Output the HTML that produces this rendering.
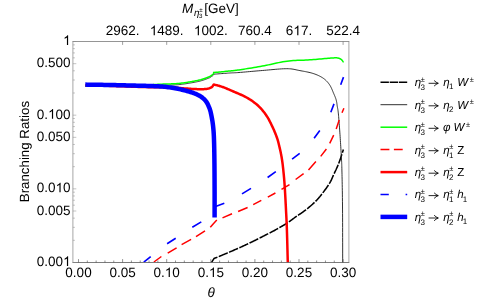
<!DOCTYPE html>
<html><head><meta charset="utf-8"><title>Branching Ratios</title>
<style>html,body{margin:0;padding:0;background:#fff;}body{width:482px;height:303px;position:relative;overflow:hidden;font-family:"Liberation Sans",sans-serif;}</style>
</head><body>
<svg width="482" height="303" viewBox="0 0 482 303" style="position:absolute;left:0;top:0;will-change:transform">
<defs><clipPath id="cp"><rect x="72.9" y="41.5" width="276.0" height="221.0"/></clipPath></defs>
<rect width="482" height="303" fill="#fff"/>
<g clip-path="url(#cp)" fill="none" stroke-linejoin="round">
<path d="M211.40 262.60 L214.10 258.40 L214.10 258.60 L214.19 258.55 L214.26 258.51 L214.33 258.46 L214.40 258.42 L214.47 258.38 L214.54 258.33 L214.61 258.29 L214.70 258.24 L214.80 258.19 L214.91 258.13 L215.05 258.07 L215.20 258.00 L215.36 257.94 L215.50 257.88 L215.63 257.83 L215.77 257.79 L215.93 257.73 L216.10 257.67 L216.30 257.60 L216.55 257.51 L216.84 257.40 L217.19 257.27 L217.61 257.10 L218.10 256.90 L218.67 256.66 L219.33 256.39 L220.05 256.09 L220.82 255.76 L221.65 255.41 L222.51 255.04 L223.41 254.66 L224.32 254.27 L225.25 253.88 L226.18 253.48 L227.10 253.09 L228.00 252.70 L228.91 252.31 L229.84 251.91 L230.79 251.50 L231.75 251.09 L232.73 250.67 L233.71 250.24 L234.70 249.82 L235.68 249.39 L236.66 248.96 L237.62 248.54 L238.57 248.12 L239.50 247.70 L240.42 247.28 L241.34 246.87 L242.25 246.44 L243.17 246.02 L244.07 245.60 L244.97 245.18 L245.85 244.77 L246.72 244.36 L247.57 243.95 L248.41 243.56 L249.22 243.17 L250.00 242.80 L250.75 242.44 L251.48 242.09 L252.18 241.76 L252.85 241.43 L253.51 241.11 L254.16 240.80 L254.79 240.49 L255.43 240.18 L256.06 239.87 L256.70 239.55 L257.34 239.23 L258.00 238.90 L258.67 238.57 L259.33 238.23 L260.00 237.89 L260.67 237.55 L261.33 237.21 L262.00 236.86 L262.67 236.52 L263.33 236.17 L264.00 235.83 L264.67 235.49 L265.33 235.14 L266.00 234.80 L266.65 234.47 L267.28 234.15 L267.90 233.85 L268.50 233.55 L269.11 233.25 L269.72 232.94 L270.35 232.63 L271.01 232.30 L271.69 231.94 L272.41 231.56 L273.18 231.15 L274.00 230.70 L274.89 230.21 L275.84 229.68 L276.85 229.12 L277.90 228.53 L278.98 227.91 L280.07 227.29 L281.18 226.65 L282.28 226.01 L283.37 225.37 L284.42 224.73 L285.44 224.11 L286.40 223.50 L287.33 222.90 L288.24 222.28 L289.14 221.66 L290.03 221.03 L290.90 220.41 L291.75 219.79 L292.58 219.18 L293.39 218.58 L294.18 218.00 L294.95 217.44 L295.69 216.90 L296.40 216.40 L297.08 215.93 L297.72 215.49 L298.33 215.09 L298.91 214.70 L299.48 214.33 L300.02 213.98 L300.55 213.63 L301.07 213.28 L301.60 212.93 L302.12 212.57 L302.65 212.19 L303.20 211.80 L303.75 211.40 L304.30 210.99 L304.84 210.59 L305.37 210.19 L305.91 209.78 L306.44 209.36 L306.98 208.94 L307.51 208.51 L308.05 208.08 L308.60 207.63 L309.15 207.17 L309.70 206.70 L310.26 206.22 L310.83 205.73 L311.40 205.23 L311.97 204.73 L312.55 204.22 L313.13 203.69 L313.71 203.16 L314.29 202.61 L314.87 202.06 L315.45 201.49 L316.03 200.90 L316.60 200.30 L317.17 199.68 L317.74 199.05 L318.31 198.40 L318.89 197.74 L319.46 197.07 L320.03 196.39 L320.59 195.69 L321.16 194.99 L321.72 194.28 L322.29 193.56 L322.84 192.83 L323.40 192.10 L323.96 191.35 L324.53 190.58 L325.11 189.79 L325.70 188.99 L326.28 188.18 L326.85 187.37 L327.41 186.56 L327.96 185.75 L328.49 184.96 L328.99 184.18 L329.46 183.43 L329.90 182.70 L330.30 182.00 L330.66 181.33 L330.99 180.68 L331.30 180.04 L331.59 179.42 L331.86 178.80 L332.12 178.19 L332.38 177.57 L332.64 176.95 L332.91 176.32 L333.20 175.67 L333.50 175.00 L333.82 174.31 L334.16 173.61 L334.50 172.90 L334.84 172.17 L335.19 171.45 L335.54 170.71 L335.88 169.98 L336.23 169.25 L336.56 168.52 L336.89 167.80 L337.20 167.10 L337.50 166.40 L337.79 165.72 L338.06 165.06 L338.32 164.40 L338.58 163.76 L338.83 163.12 L339.07 162.48 L339.31 161.84 L339.54 161.20 L339.78 160.54 L340.02 159.88 L340.26 159.20 L340.50 158.50 L340.75 157.78 L340.99 157.05 L341.23 156.31 L341.47 155.56 L341.72 154.79 L341.96 154.02 L342.20 153.25 L342.44 152.48 L342.68 151.70 L342.92 150.93 L343.16 150.16 L343.40 149.40" stroke="#000" stroke-width="1.55" stroke-dasharray="9.7 1.5" stroke-dashoffset="0.9"/>
<path d="M85.30 86.30 L86.51 86.29 L87.69 86.28 L88.85 86.28 L90.00 86.27 L91.16 86.26 L92.32 86.26 L93.50 86.25 L94.71 86.24 L95.95 86.23 L97.24 86.22 L98.59 86.21 L100.00 86.20 L101.48 86.19 L103.03 86.17 L104.63 86.15 L106.27 86.14 L107.96 86.12 L109.67 86.10 L111.40 86.08 L113.14 86.06 L114.88 86.05 L116.61 86.03 L118.32 86.01 L120.00 86.00 L121.70 85.99 L123.45 85.98 L125.23 85.97 L127.04 85.96 L128.84 85.95 L130.62 85.94 L132.38 85.94 L134.07 85.93 L135.70 85.92 L137.25 85.92 L138.68 85.91 L140.00 85.90 L141.18 85.89 L142.24 85.89 L143.19 85.88 L144.06 85.88 L144.86 85.87 L145.60 85.87 L146.31 85.86 L147.01 85.86 L147.71 85.85 L148.43 85.83 L149.18 85.82 L150.00 85.80 L150.85 85.78 L151.71 85.75 L152.57 85.72 L153.44 85.69 L154.31 85.65 L155.18 85.61 L156.05 85.57 L156.93 85.54 L157.80 85.50 L158.67 85.46 L159.54 85.43 L160.40 85.40 L161.27 85.37 L162.13 85.35 L163.01 85.33 L163.88 85.30 L164.75 85.28 L165.62 85.26 L166.48 85.24 L167.34 85.22 L168.20 85.19 L169.04 85.17 L169.88 85.14 L170.70 85.10 L171.51 85.06 L172.30 85.03 L173.07 84.99 L173.83 84.96 L174.59 84.92 L175.34 84.88 L176.10 84.83 L176.86 84.78 L177.62 84.72 L178.40 84.66 L179.19 84.58 L180.00 84.50 L180.83 84.41 L181.67 84.31 L182.53 84.20 L183.39 84.09 L184.26 83.97 L185.14 83.84 L186.02 83.71 L186.90 83.58 L187.78 83.44 L188.66 83.30 L189.53 83.15 L190.40 83.00 L191.27 82.85 L192.15 82.69 L193.03 82.54 L193.91 82.37 L194.80 82.21 L195.68 82.04 L196.56 81.86 L197.42 81.68 L198.27 81.50 L199.10 81.30 L199.91 81.10 L200.70 80.90 L201.48 80.68 L202.27 80.44 L203.06 80.19 L203.84 79.93 L204.61 79.66 L205.36 79.39 L206.08 79.13 L206.77 78.87 L207.41 78.62 L208.00 78.39 L208.53 78.18 L209.00 78.00 L209.39 77.84 L209.71 77.71 L209.96 77.59 L210.16 77.49 L210.31 77.39 L210.44 77.31 L210.54 77.24 L210.63 77.16 L210.72 77.08 L210.82 77.00 L210.94 76.91 L211.10 76.80 L211.28 76.68 L211.47 76.56 L211.66 76.44 L211.85 76.31 L212.05 76.18 L212.24 76.04 L212.42 75.91 L212.60 75.78 L212.77 75.65 L212.93 75.53 L213.07 75.41 L213.20 75.30 L213.31 75.19 L213.40 75.09 L213.47 75.00 L213.54 74.90 L213.59 74.81 L213.64 74.72 L213.68 74.64 L213.72 74.55 L213.76 74.47 L213.80 74.38 L213.85 74.29 L213.90 74.20 L213.90 74.20 L213.95 74.19 L213.93 74.19 L213.86 74.20 L213.76 74.20 L213.67 74.21 L213.60 74.21 L213.58 74.21 L213.63 74.21 L213.77 74.20 L214.03 74.17 L214.43 74.14 L215.00 74.10 L215.77 74.04 L216.73 73.97 L217.85 73.88 L219.09 73.79 L220.43 73.68 L221.84 73.57 L223.27 73.47 L224.70 73.36 L226.09 73.26 L227.41 73.16 L228.62 73.07 L229.70 73.00 L230.62 72.94 L231.40 72.90 L232.08 72.87 L232.68 72.84 L233.25 72.83 L233.81 72.81 L234.41 72.78 L235.06 72.76 L235.82 72.72 L236.70 72.66 L237.75 72.59 L239.00 72.50 L240.45 72.39 L242.06 72.25 L243.81 72.10 L245.69 71.94 L247.66 71.76 L249.70 71.58 L251.80 71.40 L253.93 71.21 L256.06 71.02 L258.19 70.84 L260.27 70.66 L262.30 70.50 L264.34 70.33 L266.45 70.15 L268.61 69.95 L270.80 69.75 L273.00 69.55 L275.19 69.36 L277.34 69.18 L279.43 69.02 L281.45 68.89 L283.36 68.78 L285.15 68.72 L286.80 68.70 L288.29 68.73 L289.64 68.79 L290.87 68.89 L292.00 69.02 L293.06 69.18 L294.05 69.36 L295.00 69.55 L295.94 69.76 L296.88 69.97 L297.84 70.18 L298.84 70.39 L299.90 70.60 L301.01 70.80 L302.14 71.00 L303.29 71.21 L304.44 71.43 L305.59 71.65 L306.74 71.88 L307.88 72.11 L309.00 72.36 L310.10 72.62 L311.17 72.90 L312.21 73.19 L313.20 73.50 L314.16 73.82 L315.10 74.16 L316.02 74.50 L316.91 74.86 L317.78 75.23 L318.63 75.62 L319.46 76.02 L320.26 76.43 L321.03 76.85 L321.78 77.29 L322.50 77.74 L323.20 78.20 L323.87 78.68 L324.50 79.17 L325.11 79.67 L325.69 80.18 L326.24 80.71 L326.77 81.25 L327.28 81.80 L327.77 82.37 L328.25 82.96 L328.71 83.56 L329.16 84.17 L329.60 84.80 L330.03 85.46 L330.43 86.15 L330.82 86.88 L331.20 87.63 L331.55 88.39 L331.89 89.16 L332.22 89.92 L332.54 90.69 L332.84 91.43 L333.14 92.15 L333.42 92.85 L333.70 93.50 L333.97 94.12 L334.23 94.71 L334.47 95.28 L334.70 95.83 L334.93 96.36 L335.14 96.89 L335.34 97.40 L335.53 97.91 L335.71 98.43 L335.88 98.94 L336.05 99.47 L336.20 100.00 L336.34 100.54 L336.46 101.07 L336.57 101.60 L336.67 102.13 L336.76 102.66 L336.84 103.19 L336.91 103.73 L336.99 104.27 L337.06 104.81 L337.13 105.36 L337.21 105.93 L337.30 106.50 L337.39 107.04 L337.48 107.53 L337.56 107.97 L337.65 108.40 L337.73 108.84 L337.82 109.31 L337.91 109.82 L338.00 110.41 L338.09 111.09 L338.19 111.88 L338.29 112.81 L338.40 113.90 L338.52 115.16 L338.64 116.57 L338.77 118.11 L338.90 119.76 L339.04 121.51 L339.18 123.33 L339.32 125.20 L339.46 127.11 L339.60 129.03 L339.74 130.95 L339.87 132.85 L340.00 134.70 L340.13 136.57 L340.26 138.53 L340.39 140.55 L340.51 142.60 L340.64 144.67 L340.77 146.73 L340.89 148.76 L341.01 150.74 L341.12 152.65 L341.22 154.46 L341.32 156.15 L341.40 157.70 L341.47 159.03 L341.53 160.11 L341.59 161.00 L341.63 161.75 L341.67 162.43 L341.70 163.10 L341.73 163.81 L341.76 164.61 L341.79 165.58 L341.82 166.76 L341.86 168.21 L341.90 170.00 L341.95 172.05 L342.00 174.25 L342.05 176.61 L342.11 179.13 L342.16 181.81 L342.22 184.64 L342.27 187.64 L342.33 190.79 L342.38 194.10 L342.42 197.57 L342.46 201.21 L342.50 205.00 L342.53 209.03 L342.56 213.34 L342.58 217.88 L342.60 222.63 L342.61 227.54 L342.62 232.56 L342.64 237.67 L342.65 242.81 L342.66 247.96 L342.67 253.07 L342.68 258.09 L342.70 263.00" stroke="#1c1c1c" stroke-width="0.9"/>
<path d="M85.30 86.10 L86.51 86.07 L87.69 86.05 L88.85 86.02 L90.00 86.00 L91.16 85.97 L92.32 85.95 L93.50 85.92 L94.71 85.90 L95.95 85.87 L97.24 85.85 L98.59 85.82 L100.00 85.80 L101.48 85.77 L103.03 85.75 L104.63 85.72 L106.27 85.70 L107.96 85.67 L109.67 85.65 L111.40 85.62 L113.14 85.60 L114.88 85.58 L116.61 85.55 L118.32 85.53 L120.00 85.50 L121.70 85.48 L123.45 85.45 L125.23 85.43 L127.04 85.40 L128.84 85.38 L130.62 85.36 L132.38 85.33 L134.07 85.31 L135.70 85.28 L137.25 85.26 L138.68 85.23 L140.00 85.20 L141.18 85.17 L142.24 85.14 L143.19 85.11 L144.06 85.08 L144.86 85.05 L145.60 85.02 L146.31 84.99 L147.01 84.95 L147.71 84.92 L148.43 84.88 L149.18 84.84 L150.00 84.80 L150.85 84.76 L151.71 84.71 L152.57 84.66 L153.44 84.60 L154.31 84.55 L155.18 84.49 L156.05 84.44 L156.93 84.39 L157.80 84.33 L158.67 84.28 L159.54 84.24 L160.40 84.20 L161.27 84.17 L162.13 84.14 L163.01 84.11 L163.88 84.09 L164.75 84.07 L165.62 84.05 L166.48 84.03 L167.34 84.01 L168.20 83.99 L169.04 83.96 L169.88 83.93 L170.70 83.90 L171.51 83.86 L172.30 83.83 L173.07 83.79 L173.83 83.76 L174.59 83.72 L175.34 83.68 L176.10 83.63 L176.86 83.58 L177.62 83.52 L178.40 83.46 L179.19 83.38 L180.00 83.30 L180.83 83.21 L181.67 83.11 L182.53 83.00 L183.39 82.89 L184.26 82.77 L185.14 82.64 L186.02 82.51 L186.90 82.38 L187.78 82.24 L188.66 82.10 L189.53 81.95 L190.40 81.80 L191.27 81.65 L192.15 81.49 L193.03 81.34 L193.91 81.17 L194.80 81.01 L195.68 80.84 L196.56 80.66 L197.42 80.48 L198.27 80.30 L199.10 80.10 L199.91 79.90 L200.70 79.70 L201.48 79.48 L202.27 79.24 L203.06 78.99 L203.84 78.73 L204.61 78.46 L205.36 78.19 L206.08 77.93 L206.77 77.67 L207.41 77.42 L208.00 77.19 L208.53 76.98 L209.00 76.80 L209.39 76.64 L209.71 76.51 L209.96 76.39 L210.16 76.29 L210.31 76.20 L210.44 76.12 L210.54 76.05 L210.63 75.97 L210.72 75.90 L210.82 75.81 L210.94 75.71 L211.10 75.60 L211.28 75.48 L211.47 75.34 L211.66 75.21 L211.85 75.07 L212.05 74.92 L212.24 74.77 L212.42 74.63 L212.60 74.48 L212.77 74.33 L212.93 74.18 L213.07 74.04 L213.20 73.90 L213.31 73.76 L213.40 73.63 L213.47 73.49 L213.54 73.36 L213.59 73.23 L213.64 73.09 L213.68 72.96 L213.72 72.83 L213.76 72.70 L213.80 72.57 L213.85 72.43 L213.90 72.30 L213.90 72.30 L213.95 72.31 L213.93 72.33 L213.86 72.36 L213.76 72.39 L213.67 72.42 L213.60 72.44 L213.58 72.46 L213.63 72.48 L213.77 72.48 L214.03 72.47 L214.43 72.44 L215.00 72.40 L215.77 72.33 L216.73 72.25 L217.85 72.15 L219.09 72.03 L220.43 71.91 L221.84 71.77 L223.27 71.64 L224.70 71.50 L226.09 71.36 L227.41 71.23 L228.62 71.11 L229.70 71.00 L230.62 70.91 L231.40 70.83 L232.08 70.77 L232.68 70.71 L233.25 70.66 L233.81 70.60 L234.41 70.53 L235.06 70.46 L235.82 70.36 L236.70 70.24 L237.75 70.09 L239.00 69.90 L240.45 69.68 L242.06 69.44 L243.81 69.17 L245.68 68.87 L247.64 68.56 L249.69 68.24 L251.78 67.90 L253.91 67.55 L256.05 67.19 L258.17 66.83 L260.26 66.46 L262.30 66.10 L264.31 65.72 L266.34 65.31 L268.38 64.87 L270.43 64.42 L272.49 63.96 L274.56 63.50 L276.64 63.05 L278.71 62.62 L280.79 62.21 L282.87 61.83 L284.94 61.49 L287.00 61.20 L289.07 60.96 L291.17 60.76 L293.28 60.60 L295.40 60.47 L297.51 60.37 L299.63 60.28 L301.72 60.20 L303.79 60.13 L305.83 60.05 L307.84 59.97 L309.80 59.87 L311.70 59.75 L313.59 59.61 L315.51 59.46 L317.42 59.29 L319.33 59.12 L321.20 58.95 L323.03 58.78 L324.79 58.62 L326.47 58.46 L328.05 58.32 L329.51 58.19 L330.83 58.09 L332.00 58.00 L333.00 57.93 L333.83 57.88 L334.52 57.84 L335.09 57.81 L335.56 57.80 L335.95 57.80 L336.28 57.81 L336.57 57.82 L336.85 57.85 L337.13 57.89 L337.44 57.94 L337.80 58.00 L338.18 58.07 L338.53 58.15 L338.86 58.24 L339.18 58.34 L339.48 58.45 L339.77 58.57 L340.04 58.70 L340.31 58.84 L340.56 58.99 L340.81 59.15 L341.06 59.32 L341.30 59.50 L341.53 59.69 L341.75 59.90 L341.96 60.13 L342.16 60.36 L342.34 60.61 L342.52 60.86 L342.70 61.12 L342.88 61.38 L343.05 61.64 L343.23 61.90 L343.41 62.15 L343.60 62.40" stroke="#00ff00" stroke-width="1.5"/>
<path d="M153.9 262.0 L161.4 256.5 M167.7 253.1 L176.6 247.8 M181.6 244.6 L191.1 239.4 M196.0 236.7 L205.0 230.9 M210.3 227.2 L213.6 223.4 L216.8 220.0 M222.5 217.9 L232.0 213.8 M238.1 211.5 L247.6 207.5 M253.2 204.7 L261.3 200.4 M267.8 197.2 L275.4 193.0 M281.5 189.3 L289.5 184.6 M295.6 179.5 L303.6 173.6 M308.5 170.0 L315.9 161.4 M320.7 156.4 L326.4 149.0 M329.7 143.4 L333.7 135.2 M336.2 128.9 L339.2 120.1 M342.0 112.7 L343.9 108.2" stroke="#ff0000" stroke-width="1.5"/>
<path d="M85.30 85.20 L87.37 85.26 L89.47 85.32 L91.59 85.38 L93.71 85.43 L95.83 85.49 L97.94 85.55 L100.04 85.61 L102.11 85.67 L104.16 85.73 L106.16 85.78 L108.11 85.84 L110.00 85.90 L111.83 85.96 L113.61 86.02 L115.33 86.08 L117.01 86.14 L118.67 86.20 L120.29 86.26 L121.90 86.32 L123.51 86.37 L125.11 86.43 L126.72 86.49 L128.35 86.55 L130.00 86.60 L131.68 86.65 L133.38 86.71 L135.09 86.77 L136.81 86.82 L138.54 86.88 L140.25 86.93 L141.95 86.98 L143.63 87.03 L145.28 87.08 L146.90 87.12 L148.47 87.16 L150.00 87.20 L151.49 87.23 L152.97 87.26 L154.42 87.28 L155.85 87.29 L157.25 87.31 L158.62 87.32 L159.96 87.33 L161.26 87.34 L162.52 87.35 L163.73 87.37 L164.89 87.38 L166.00 87.40 L167.05 87.42 L168.05 87.44 L168.99 87.46 L169.89 87.48 L170.74 87.50 L171.56 87.53 L172.35 87.55 L173.11 87.57 L173.85 87.60 L174.58 87.63 L175.29 87.66 L176.00 87.70 L176.69 87.74 L177.36 87.79 L178.01 87.84 L178.63 87.89 L179.23 87.94 L179.81 88.00 L180.38 88.06 L180.93 88.11 L181.46 88.16 L181.98 88.21 L182.50 88.26 L183.00 88.30 L183.48 88.33 L183.92 88.37 L184.33 88.39 L184.72 88.41 L185.09 88.44 L185.46 88.46 L185.83 88.48 L186.21 88.50 L186.61 88.52 L187.04 88.54 L187.50 88.57 L188.00 88.60 L188.53 88.64 L189.08 88.68 L189.65 88.72 L190.24 88.77 L190.85 88.82 L191.47 88.88 L192.11 88.92 L192.77 88.97 L193.45 89.01 L194.15 89.05 L194.86 89.08 L195.60 89.10 L196.38 89.12 L197.22 89.13 L198.10 89.15 L199.02 89.16 L199.96 89.17 L200.90 89.17 L201.83 89.17 L202.74 89.16 L203.62 89.14 L204.45 89.10 L205.21 89.06 L205.90 89.00 L206.52 88.93 L207.10 88.84 L207.63 88.74 L208.13 88.63 L208.59 88.50 L209.01 88.37 L209.41 88.24 L209.79 88.10 L210.14 87.95 L210.47 87.80 L210.79 87.65 L211.10 87.50 L211.39 87.34 L211.65 87.17 L211.88 86.99 L212.09 86.80 L212.27 86.61 L212.44 86.41 L212.59 86.22 L212.73 86.03 L212.85 85.85 L212.97 85.69 L213.09 85.53 L213.20 85.40 L213.30 85.28 L213.39 85.18 L213.46 85.09 L213.51 85.01 L213.56 84.94 L213.59 84.88 L213.63 84.81 L213.66 84.76 L213.69 84.70 L213.72 84.64 L213.75 84.57 L213.80 84.50 L213.80 84.50 L214.44 84.67 L215.08 84.84 L215.71 85.00 L216.35 85.16 L216.98 85.31 L217.62 85.47 L218.26 85.64 L218.90 85.81 L219.54 85.99 L220.19 86.18 L220.84 86.38 L221.50 86.60 L222.14 86.82 L222.74 87.03 L223.31 87.24 L223.87 87.45 L224.44 87.67 L225.03 87.91 L225.64 88.16 L226.30 88.44 L227.03 88.74 L227.82 89.09 L228.71 89.47 L229.70 89.90 L230.82 90.38 L232.07 90.91 L233.44 91.48 L234.89 92.09 L236.39 92.73 L237.94 93.39 L239.49 94.07 L241.04 94.76 L242.54 95.45 L243.99 96.14 L245.35 96.83 L246.60 97.50 L247.76 98.16 L248.88 98.82 L249.95 99.49 L250.98 100.16 L251.98 100.83 L252.94 101.51 L253.87 102.19 L254.77 102.89 L255.66 103.60 L256.52 104.32 L257.37 105.05 L258.20 105.80 L259.02 106.57 L259.80 107.35 L260.57 108.14 L261.30 108.95 L262.02 109.77 L262.71 110.59 L263.39 111.43 L264.04 112.27 L264.68 113.12 L265.30 113.98 L265.91 114.84 L266.50 115.70 L267.08 116.57 L267.63 117.45 L268.16 118.34 L268.67 119.24 L269.16 120.15 L269.64 121.06 L270.11 121.98 L270.56 122.89 L271.01 123.80 L271.44 124.71 L271.87 125.61 L272.30 126.50 L272.72 127.39 L273.14 128.30 L273.55 129.20 L273.95 130.11 L274.34 131.02 L274.72 131.93 L275.09 132.82 L275.44 133.70 L275.78 134.56 L276.10 135.40 L276.41 136.21 L276.70 137.00 L276.96 137.74 L277.20 138.44 L277.42 139.09 L277.61 139.72 L277.80 140.33 L277.97 140.93 L278.13 141.54 L278.30 142.16 L278.46 142.81 L278.63 143.49 L278.81 144.22 L279.00 145.00 L279.20 145.84 L279.42 146.72 L279.63 147.65 L279.85 148.60 L280.07 149.58 L280.29 150.58 L280.51 151.58 L280.73 152.60 L280.93 153.62 L281.13 154.62 L281.32 155.62 L281.50 156.60 L281.67 157.55 L281.82 158.48 L281.97 159.38 L282.10 160.28 L282.24 161.18 L282.36 162.09 L282.49 163.01 L282.61 163.96 L282.73 164.95 L282.85 165.98 L282.97 167.06 L283.10 168.20 L283.23 169.38 L283.36 170.58 L283.48 171.80 L283.61 173.04 L283.74 174.33 L283.86 175.65 L283.99 177.02 L284.11 178.44 L284.23 179.93 L284.36 181.48 L284.48 183.10 L284.60 184.80 L284.72 186.62 L284.84 188.56 L284.97 190.62 L285.09 192.76 L285.22 194.95 L285.34 197.19 L285.46 199.43 L285.57 201.67 L285.69 203.86 L285.80 206.00 L285.90 208.05 L286.00 210.00 L286.09 211.81 L286.18 213.48 L286.26 215.06 L286.34 216.57 L286.41 218.04 L286.48 219.51 L286.55 221.01 L286.62 222.56 L286.69 224.21 L286.76 225.97 L286.83 227.89 L286.90 230.00 L286.97 232.29 L287.05 234.75 L287.12 237.34 L287.20 240.04 L287.27 242.83 L287.35 245.69 L287.42 248.59 L287.50 251.52 L287.57 254.45 L287.65 257.35 L287.72 260.21 L287.80 263.00" stroke="#ff0000" stroke-width="2.5"/>
<path d="M143.8 262.2 L150.7 256.6 M167.1 243.7 L175.7 238.3 M192.3 227.3 L201.3 221.9 M214.2 207.1 L224.3 203.3 M242.0 193.9 L251.0 188.4 M267.6 177.5 L275.8 171.6 M292.1 159.1 L299.7 153.3 M314.1 138.3 L319.8 130.5 M330.8 112.3 L334.0 103.9 M340.7 84.8 L343.5 77.1" stroke="#0000ff" stroke-width="1.65"/>
<path d="M85.30 84.60 L87.37 84.63 L89.47 84.67 L91.59 84.70 L93.71 84.73 L95.83 84.76 L97.94 84.79 L100.04 84.83 L102.11 84.86 L104.16 84.89 L106.16 84.93 L108.11 84.96 L110.00 85.00 L111.83 85.04 L113.61 85.08 L115.33 85.12 L117.01 85.16 L118.67 85.20 L120.29 85.24 L121.90 85.29 L123.51 85.33 L125.11 85.37 L126.72 85.42 L128.35 85.46 L130.00 85.50 L131.68 85.54 L133.37 85.58 L135.08 85.61 L136.79 85.65 L138.51 85.68 L140.21 85.72 L141.91 85.76 L143.59 85.80 L145.24 85.84 L146.86 85.89 L148.45 85.94 L150.00 86.00 L151.50 86.06 L152.96 86.11 L154.39 86.17 L155.79 86.22 L157.16 86.28 L158.51 86.34 L159.86 86.42 L161.19 86.50 L162.53 86.60 L163.87 86.71 L165.23 86.85 L166.60 87.00 L167.99 87.18 L169.40 87.37 L170.82 87.58 L172.25 87.80 L173.68 88.04 L175.10 88.29 L176.51 88.56 L177.90 88.83 L179.27 89.11 L180.62 89.40 L181.93 89.70 L183.20 90.00 L184.44 90.31 L185.68 90.63 L186.89 90.95 L188.09 91.29 L189.27 91.63 L190.42 91.98 L191.54 92.34 L192.63 92.71 L193.68 93.10 L194.70 93.49 L195.67 93.89 L196.60 94.30 L197.48 94.72 L198.32 95.14 L199.12 95.57 L199.88 96.00 L200.61 96.44 L201.30 96.90 L201.96 97.37 L202.60 97.86 L203.20 98.36 L203.79 98.88 L204.35 99.43 L204.90 100.00 L205.42 100.60 L205.91 101.21 L206.36 101.85 L206.79 102.51 L207.19 103.19 L207.57 103.89 L207.93 104.60 L208.27 105.32 L208.59 106.05 L208.90 106.79 L209.21 107.54 L209.50 108.30 L209.78 109.07 L210.04 109.86 L210.28 110.66 L210.50 111.48 L210.71 112.31 L210.90 113.14 L211.08 113.99 L211.26 114.83 L211.42 115.68 L211.58 116.53 L211.74 117.37 L211.90 118.20 L212.05 119.02 L212.20 119.84 L212.34 120.66 L212.47 121.47 L212.59 122.28 L212.71 123.09 L212.82 123.91 L212.92 124.74 L213.02 125.59 L213.12 126.44 L213.21 127.31 L213.30 128.20 L213.38 129.08 L213.46 129.94 L213.53 130.79 L213.60 131.63 L213.66 132.48 L213.71 133.36 L213.77 134.28 L213.81 135.24 L213.86 136.26 L213.91 137.35 L213.95 138.53 L214.00 139.80 L214.04 141.15 L214.09 142.56 L214.13 144.02 L214.16 145.53 L214.20 147.11 L214.23 148.75 L214.26 150.45 L214.29 152.22 L214.32 154.06 L214.35 155.97 L214.37 157.95 L214.40 160.00 L214.42 162.16 L214.45 164.46 L214.47 166.87 L214.49 169.36 L214.51 171.93 L214.53 174.54 L214.54 177.17 L214.56 179.81 L214.57 182.44 L214.58 185.03 L214.59 187.55 L214.60 190.00 L214.61 192.38 L214.61 194.74 L214.61 197.07 L214.61 199.38 L214.61 201.67 L214.61 203.95 L214.61 206.22 L214.61 208.49 L214.60 210.76 L214.60 213.03 L214.60 215.31 L214.60 217.60" stroke="#0000ff" stroke-width="4.5"/>
</g>
<g stroke="#666" stroke-width="0.5" fill="none">
<path d="M72.5 41.5H349.3" stroke-width="0.8" stroke="#7a7a7a"/>
<path d="M72.5 262.5H349.3" stroke-width="0.8" stroke="#5a5a5a"/>
<path d="M72.9 41.5V262.5M348.9 41.5V262.5" stroke-width="0.7" stroke="#808080"/>
<path d="M78.50 262.5v-3.4 M87.32 262.5v-2.0 M96.14 262.5v-2.0 M104.96 262.5v-2.0 M113.78 262.5v-2.0 M122.60 262.5v-3.4 M131.42 262.5v-2.0 M140.24 262.5v-2.0 M149.06 262.5v-2.0 M157.88 262.5v-2.0 M166.70 262.5v-3.4 M175.52 262.5v-2.0 M184.34 262.5v-2.0 M193.16 262.5v-2.0 M201.98 262.5v-2.0 M210.80 262.5v-3.4 M219.62 262.5v-2.0 M228.44 262.5v-2.0 M237.26 262.5v-2.0 M246.08 262.5v-2.0 M254.90 262.5v-3.4 M263.72 262.5v-2.0 M272.54 262.5v-2.0 M281.36 262.5v-2.0 M290.18 262.5v-2.0 M299.00 262.5v-3.4 M307.82 262.5v-2.0 M316.64 262.5v-2.0 M325.46 262.5v-2.0 M334.28 262.5v-2.0 M343.10 262.5v-3.4" stroke="#4a4a4a" stroke-width="0.6"/>
<path d="M72.9 44.87h2.0 M72.9 48.64h2.0 M72.9 52.91h2.0 M72.9 57.84h2.0 M72.9 63.68h3.4 M72.9 70.81h2.0 M72.9 80.02h2.0 M72.9 92.99h2.0 M72.9 115.17h3.4 M72.9 118.54h2.0 M72.9 122.31h2.0 M72.9 126.58h2.0 M72.9 131.51h2.0 M72.9 137.34h3.4 M72.9 144.48h2.0 M72.9 153.69h2.0 M72.9 166.66h2.0 M72.9 188.83h3.4 M72.9 192.20h2.0 M72.9 195.97h2.0 M72.9 200.24h2.0 M72.9 205.18h2.0 M72.9 211.01h3.4 M72.9 218.15h2.0 M72.9 227.35h2.0 M72.9 240.32h2.0 M72.9 262.50h3.4 M72.9 41.50h3.4" stroke="#888" stroke-width="0.5"/>
<path d="M122.60 41.5v3.4 M166.70 41.5v3.4 M210.80 41.5v3.4 M254.90 41.5v3.4 M299.00 41.5v3.4 M343.10 41.5v3.4" stroke="#606060" stroke-width="0.6"/>
</g>
<g font-family="Liberation Sans, sans-serif" font-size="13.5" fill="#000" text-rendering="geometricPrecision">
<text x="65.36 72.87 76.62 84.13" y="277.1">0.00</text>
<text x="109.46 116.97 120.72 128.23" y="277.1">0.05</text>
<text x="153.56 161.07 172.33" y="277.1">0.0</text><path d="M763 0H583V1147Q518 1085 412.5 1023T223 930V1104Q374 1175 487 1276T647 1472H763Z" transform="translate(164.82 277.10) scale(0.00659 -0.00659)"/>
<text x="197.66 205.17 216.43" y="277.1">0.5</text><path d="M763 0H583V1147Q518 1085 412.5 1023T223 930V1104Q374 1175 487 1276T647 1472H763Z" transform="translate(208.92 277.10) scale(0.00659 -0.00659)"/>
<text x="241.76 249.27 253.02 260.53" y="277.1">0.20</text>
<text x="285.86 293.37 297.12 304.63" y="277.1">0.25</text>
<text x="329.96 337.47 341.22 348.73" y="277.1">0.30</text>
<text x="105.71 113.22 120.72 128.23 135.74" y="35.3">2962.</text>
<text x="157.32 164.82 172.33 179.84" y="35.3">489.</text><path d="M763 0H583V1147Q518 1085 412.5 1023T223 930V1104Q374 1175 487 1276T647 1472H763Z" transform="translate(149.81 35.30) scale(0.00659 -0.00659)"/>
<text x="201.42 208.92 216.43 223.94" y="35.3">002.</text><path d="M763 0H583V1147Q518 1085 412.5 1023T223 930V1104Q374 1175 487 1276T647 1472H763Z" transform="translate(193.91 35.30) scale(0.00659 -0.00659)"/>
<text x="238.01 245.52 253.02 260.53 264.28" y="35.3">760.4</text>
<text x="285.86 300.88 308.39" y="35.3">67.</text><path d="M763 0H583V1147Q518 1085 412.5 1023T223 930V1104Q374 1175 487 1276T647 1472H763Z" transform="translate(293.37 35.30) scale(0.00659 -0.00659)"/>
<text x="326.21 333.72 341.22 348.73 352.48" y="35.3">522.4</text>
<path d="M763 0H583V1147Q518 1085 412.5 1023T223 930V1104Q374 1175 487 1276T647 1472H763Z" transform="translate(63.09 45.00) scale(0.00659 -0.00659)"/>
<text x="36.82 44.33 48.08 55.58 63.09" y="67.2">0.500</text>
<text x="36.82 44.33 55.58 63.09" y="118.7">0.00</text><path d="M763 0H583V1147Q518 1085 412.5 1023T223 930V1104Q374 1175 487 1276T647 1472H763Z" transform="translate(48.08 118.67) scale(0.00659 -0.00659)"/>
<text x="36.82 44.33 48.08 55.58 63.09" y="140.8">0.050</text>
<text x="36.82 44.33 48.08 63.09" y="192.3">0.00</text><path d="M763 0H583V1147Q518 1085 412.5 1023T223 930V1104Q374 1175 487 1276T647 1472H763Z" transform="translate(55.58 192.33) scale(0.00659 -0.00659)"/>
<text x="36.82 44.33 48.08 55.58 63.09" y="214.5">0.005</text>
<text x="36.82 44.33 48.08 55.58" y="266.0">0.00</text><path d="M763 0H583V1147Q518 1085 412.5 1023T223 930V1104Q374 1175 487 1276T647 1472H763Z" transform="translate(63.09 266.00) scale(0.00659 -0.00659)"/>
<text transform="translate(28.8,151.6) rotate(-90)" text-anchor="middle" font-size="13.3">Branching Ratios</text>
<text x="207.6" y="296.8" font-style="italic">θ</text>
<text x="182.0" y="12.9"><tspan font-style="italic">M</tspan></text>
<text x="193.9" y="15.9" font-size="9.8" font-style="italic">η</text>
<text x="199.2" y="11.6" font-size="6.2">±</text>
<text x="199.0" y="18.0" font-size="6.2">3</text>
<text x="204.3" y="12.9">[GeV]</text>
</g>
<g fill="none">
<path d="M380.5 82.2H407.2" stroke="#000" stroke-width="1.65" stroke-dasharray="8.4 0.8"/>
<path d="M380.5 104.7H407.2" stroke="#1a1a1a" stroke-width="0.9"/>
<path d="M380.5 127.2H407.2" stroke="#00ff00" stroke-width="1.5"/>
<path d="M380.5 149.6H389.4M393.9 149.6H402.7" stroke="#ff0000" stroke-width="1.5"/>
<path d="M380.5 172.1H407.2" stroke="#ff0000" stroke-width="2.5"/>
<path d="M380.5 194.5H388.8M405.6 194.5H407.2" stroke="#0000ff" stroke-width="1.5"/>
<path d="M380.5 216.9H407.2" stroke="#0000ff" stroke-width="4.5"/>
</g>
<g font-family="Liberation Sans, sans-serif" font-size="11.5" fill="#000" text-rendering="geometricPrecision">
<text x="414.8" y="86.1" font-style="italic">η</text><text x="420.8" y="81.5" font-size="7.4">±</text><text x="420.5" y="90.1" font-size="8.0">3</text>
<path d="M429.0 83.30H438.0M434.4 80.80Q436.0 82.40 438.2 83.30Q436.0 84.20 434.4 85.80" fill="none" stroke="#000" stroke-width="0.85" stroke-linecap="round" stroke-linejoin="round"/>
<text x="443.2" y="86.1" font-style="italic">η</text><text x="448.9" y="89.0" font-size="8.0">1</text>
<text x="457.3" y="86.1" font-style="italic">W</text>
<text x="469.7" y="81.5" font-size="7.4">±</text>
<text x="414.8" y="108.6" font-style="italic">η</text><text x="420.8" y="104.0" font-size="7.4">±</text><text x="420.5" y="112.6" font-size="8.0">3</text>
<path d="M429.0 105.80H438.0M434.4 103.30Q436.0 104.90 438.2 105.80Q436.0 106.70 434.4 108.30" fill="none" stroke="#000" stroke-width="0.85" stroke-linecap="round" stroke-linejoin="round"/>
<text x="443.2" y="108.6" font-style="italic">η</text><text x="448.9" y="111.5" font-size="8.0">2</text>
<text x="457.3" y="108.6" font-style="italic">W</text>
<text x="469.7" y="104.0" font-size="7.4">±</text>
<text x="414.8" y="131.1" font-style="italic">η</text><text x="420.8" y="126.5" font-size="7.4">±</text><text x="420.5" y="135.1" font-size="8.0">3</text>
<path d="M429.0 128.30H438.0M434.4 125.80Q436.0 127.40 438.2 128.30Q436.0 129.20 434.4 130.80" fill="none" stroke="#000" stroke-width="0.85" stroke-linecap="round" stroke-linejoin="round"/>
<text x="443.0" y="131.1" font-style="italic">φ</text>
<text x="453.5" y="131.1" font-style="italic">W</text>
<text x="465.9" y="126.5" font-size="7.4">±</text>
<text x="414.8" y="153.5" font-style="italic">η</text><text x="420.8" y="148.9" font-size="7.4">±</text><text x="420.5" y="157.5" font-size="8.0">3</text>
<path d="M429.0 150.70H438.0M434.4 148.20Q436.0 149.80 438.2 150.70Q436.0 151.60 434.4 153.20" fill="none" stroke="#000" stroke-width="0.85" stroke-linecap="round" stroke-linejoin="round"/>
<text x="443.2" y="153.5" font-style="italic">η</text><text x="449.2" y="148.9" font-size="7.4">±</text><text x="448.9" y="157.5" font-size="8.0">1</text>
<text x="457.3" y="153.5">Z</text>
<text x="414.8" y="176.0" font-style="italic">η</text><text x="420.8" y="171.4" font-size="7.4">±</text><text x="420.5" y="180.0" font-size="8.0">3</text>
<path d="M429.0 173.20H438.0M434.4 170.70Q436.0 172.30 438.2 173.20Q436.0 174.10 434.4 175.70" fill="none" stroke="#000" stroke-width="0.85" stroke-linecap="round" stroke-linejoin="round"/>
<text x="443.2" y="176.0" font-style="italic">η</text><text x="449.2" y="171.4" font-size="7.4">±</text><text x="448.9" y="180.0" font-size="8.0">2</text>
<text x="457.3" y="176.0">Z</text>
<text x="414.8" y="198.4" font-style="italic">η</text><text x="420.8" y="193.8" font-size="7.4">±</text><text x="420.5" y="202.4" font-size="8.0">3</text>
<path d="M429.0 195.60H438.0M434.4 193.10Q436.0 194.70 438.2 195.60Q436.0 196.50 434.4 198.10" fill="none" stroke="#000" stroke-width="0.85" stroke-linecap="round" stroke-linejoin="round"/>
<text x="443.2" y="198.4" font-style="italic">η</text><text x="449.2" y="193.8" font-size="7.4">±</text><text x="448.9" y="202.4" font-size="8.0">1</text>
<text x="457.3" y="198.4" font-style="italic">h</text>
<text x="462.8" y="201.8" font-size="8.0">1</text>
<text x="414.8" y="220.8" font-style="italic">η</text><text x="420.8" y="216.2" font-size="7.4">±</text><text x="420.5" y="224.8" font-size="8.0">3</text>
<path d="M429.0 218.00H438.0M434.4 215.50Q436.0 217.10 438.2 218.00Q436.0 218.90 434.4 220.50" fill="none" stroke="#000" stroke-width="0.85" stroke-linecap="round" stroke-linejoin="round"/>
<text x="443.2" y="220.8" font-style="italic">η</text><text x="449.2" y="216.2" font-size="7.4">±</text><text x="448.9" y="224.8" font-size="8.0">2</text>
<text x="457.3" y="220.8" font-style="italic">h</text>
<text x="462.8" y="224.2" font-size="8.0">1</text>
</g>
</svg>
</body></html>
